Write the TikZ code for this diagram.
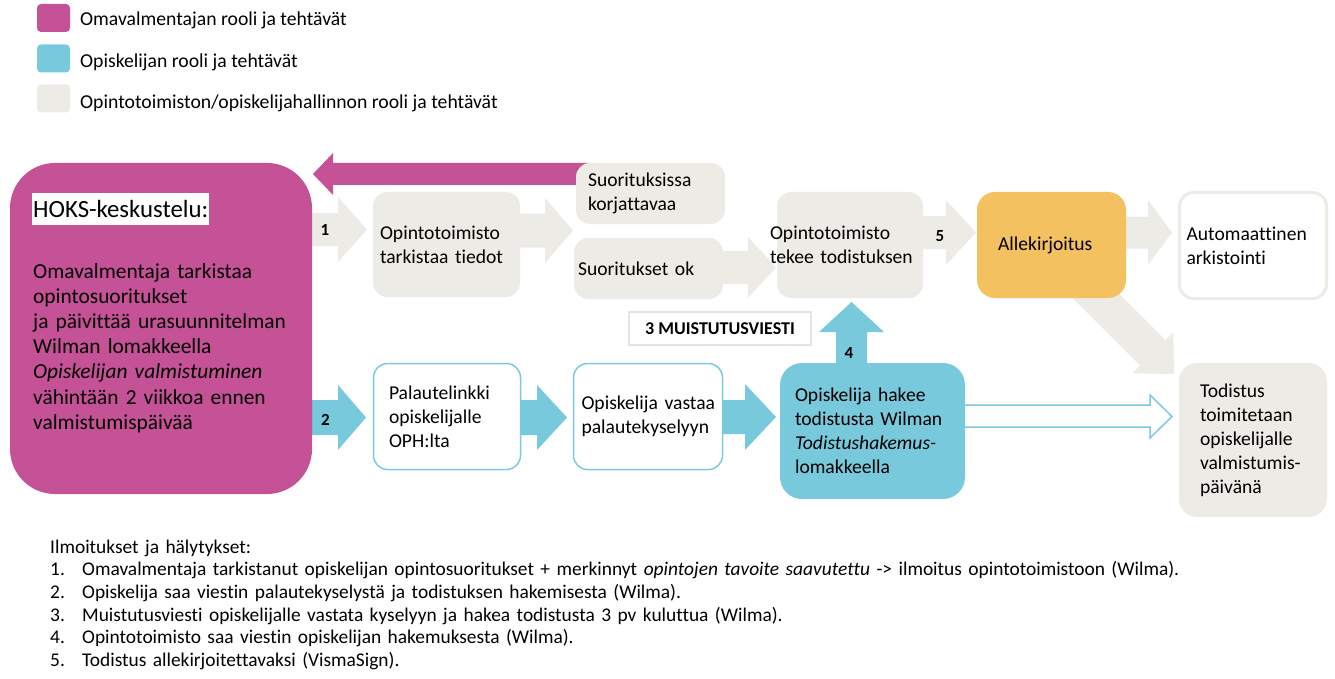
\documentclass[tikz,border=0pt]{standalone}
\usepackage{fontspec}
\setmainfont{Carlito}[Ligatures={NoCommon}]
\usetikzlibrary{calc}
\definecolor{mag}{HTML}{C55196}
\definecolor{cyanc}{HTML}{78C9DB}
\definecolor{cyanb}{HTML}{7DCADC}
\definecolor{lgray}{HTML}{EDEBE6}
\definecolor{lgrayb}{HTML}{E6E4DF}
\definecolor{orng}{HTML}{F3C15F}
% horizontal block arrow: #1 x start, #2 x head base, #3 x tip, #4 y centre, #5 shaft half, #6 head half, #7 style
\newcommand\harrow[7]{\fill[#7] (#1,#4-#5) -- (#2,#4-#5) -- (#2,#4-#6) -- (#3,#4) -- (#2,#4+#6) -- (#2,#4+#5) -- (#1,#4+#5) -- cycle;}
\begin{document}
\begin{tikzpicture}[x=1pt,y=-1pt,
  box/.style={rounded corners=14pt, inner ysep=0pt, align=left, font=\fontsize{19.6}{24}\selectfont,
    execute at begin node={\hyphenpenalty=10000\exhyphenpenalty=10000}},
  gbox/.style={box, fill=lgray},
  legsq/.style={rounded corners=4pt, minimum width=33pt, minimum height=28pt, inner sep=0pt},
  legtxt/.style={anchor=west, inner sep=0pt, font=\fontsize{19.7}{24}\selectfont},
  num/.style={inner sep=0pt, font=\bfseries\fontsize{17}{20}\selectfont}]
\useasboundingbox (0,0) rectangle (1335,679);

% legend
\node[legsq, fill=mag] (lq1) at (53.5,18) {};
\node[legtxt] (lt1) at (80,20) {Omavalmentajan rooli ja tehtävät};
\node[legsq, fill=cyanc] (lq2) at (53.5,58.5) {};
\node[legtxt] (lt2) at (80,62) {Opiskelijan rooli ja tehtävät};
\node[legsq, fill=lgray] (lq3) at (53.5,98.5) {};
\node[legtxt] (lt3) at (80,103) {Opintotoimiston/opiskelijahallinnon rooli ja tehtävät};

% block arrows (drawn first, boxes go over them)
\harrow{590}{333}{313}{174}{11}{21}{mag}
\harrow{308}{338}{367}{229.5}{16.5}{32.5}{lgray}
\harrow{515}{545}{573}{230.5}{17}{32.5}{lgray}
\harrow{718}{748}{776}{267.5}{16.5}{30.5}{lgray}
\harrow{918}{946}{976}{232.5}{16.5}{32.5}{lgray}
\harrow{1120}{1148}{1172}{232.5}{16}{32.5}{lgray}
\harrow{308}{338}{366}{417.5}{17.5}{32.5}{cyanc}
\harrow{515}{537}{567}{417.5}{17.5}{32.5}{cyanc}
\harrow{718}{745}{776}{417}{17}{33}{cyanc}
\fill[cyanc] (836,370) -- (836,332) -- (819,332) -- (851.5,302) -- (884,332) -- (867,332) -- (867,370) -- cycle;
\fill[lgray] (1092.7,267.3) -- (1165.5,340.1) -- (1173.3,332.3) -- (1174,374) -- (1132.3,373.3) -- (1140.1,365.5) -- (1067.3,292.7) -- cycle;
\filldraw[fill=white, draw=cyanb, line width=1.5pt] (955,405) -- (1150,405) -- (1150,395) -- (1172,416.5) -- (1150,438) -- (1150,427) -- (955,427) -- cycle;

% left box
\node[fill=mag, rounded corners=45pt, minimum width=302pt, minimum height=331pt, inner sep=0pt] (om) at (161,328.5) {};
\node[fill=white, inner xsep=1pt, inner ysep=0pt, minimum height=32pt, anchor=west, font=\fontsize{24.8}{30}\selectfont] (hoks) at (32,209) {HOKS-keskustelu:};
\node[anchor=base west, inner sep=0pt, text width=272pt, align=left, font=\fontsize{21.4}{25.2}\selectfont] (omt) at (33,278) {Omavalmentaja tarkistaa\\opintosuoritukset\\ja päivittää urasuunnitelman\\Wilman lomakkeella\\\textit{Opiskelijan valmistuminen}\\vähintään 2 viikkoa ennen\\valmistumispäivää};

% top row
\node[gbox, minimum width=147pt, minimum height=105pt, text width=133pt, inner xsep=7pt] (tark) at (446.5,244.5) {Opintotoimisto\\tarkistaa tiedot};
\node[gbox, minimum width=149pt, minimum height=61pt, text width=125pt, inner xsep=12pt] (korj) at (650.5,193.5) {Suorituksissa\\korjattavaa};
\node[gbox, minimum width=149pt, minimum height=61pt, text width=141pt, inner xsep=4pt] (ok) at (648.5,268.5) {Suoritukset ok};
\node[gbox, minimum width=146pt, minimum height=106pt, text width=160pt, inner xsep=-7pt] (tekee) at (850,245) {Opintotoimisto\\tekee todistuksen};
\node[box, fill=orng, rounded corners=18pt, minimum width=149pt, minimum height=106pt, text width=107pt, inner xsep=21pt] (alle) at (1051.5,245) {Allekirjoitus};
\node[box, fill=white, draw=lgray, line width=3pt, minimum width=147pt, minimum height=106pt, text width=133pt, inner xsep=7pt] (auto) at (1253,245.5) {Automaattinen\\arkistointi};

% reminder label
\node[draw=lgrayb, line width=2pt, fill=white, minimum width=182pt, minimum height=33pt, inner sep=0pt, font=\bfseries\fontsize{18}{22}\selectfont] (mui) at (720,328.5) {3 MUISTUTUSVIESTI};

% bottom row
\node[box, fill=white, draw=cyanb, line width=1.5pt, minimum width=147pt, minimum height=106pt, text width=116pt, inner xsep=15.5pt] (pal) at (447,416.5) {Palautelinkki\\opiskelijalle\\OPH:lta};
\node[box, fill=white, draw=cyanb, line width=1.5pt, minimum width=149pt, minimum height=106pt, text width=143pt, inner xsep=3pt] (vast) at (648,416.5) {\hspace*{5pt}Opiskelija vastaa\\\hspace*{5pt}palautekyselyyn};
\node[box, fill=cyanc, rounded corners=22pt, minimum width=185pt, minimum height=136pt, text width=155pt, inner xsep=15pt] (hak) at (872.5,431) {Opiskelija hakee\\todistusta Wilman\\\textit{Todistushakemus-}\\lomakkeella};
\node[gbox, rounded corners=18pt, minimum width=148pt, minimum height=154pt, text width=106pt, inner xsep=21pt] (tod) at (1253,440) {Todistus\\toimitetaan\\opiskelijalle\\valmistumis-\\päivänä};

% step numbers
\node[num] (n1) at (325,230) {1};
\node[num] (n2) at (325.5,420) {2};
\node[num] (n4) at (849,353) {4};
\node[num] (n5) at (940,236) {5};

% notes
\node[anchor=base west, inner sep=0pt, text width=1200pt, align=left, font=\fontsize{19.4}{22.7}\selectfont] (notes) at (50,553) {Ilmoitukset ja hälytykset:\\
\makebox[32pt][l]{1.}Omavalmentaja tarkistanut opiskelijan opintosuoritukset + merkinnyt \textit{opintojen tavoite saavutettu} -> ilmoitus opintotoimistoon (Wilma).\\
\makebox[32pt][l]{2.}Opiskelija saa viestin palautekyselystä ja todistuksen hakemisesta (Wilma).\\
\makebox[32pt][l]{3.}Muistutusviesti opiskelijalle vastata kyselyyn ja hakea todistusta 3 pv kuluttua (Wilma).\\
\makebox[32pt][l]{4.}Opintotoimisto saa viestin opiskelijan hakemuksesta (Wilma).\\
\makebox[32pt][l]{5.}Todistus allekirjoitettavaksi (VismaSign).};
\end{tikzpicture}
\end{document}
